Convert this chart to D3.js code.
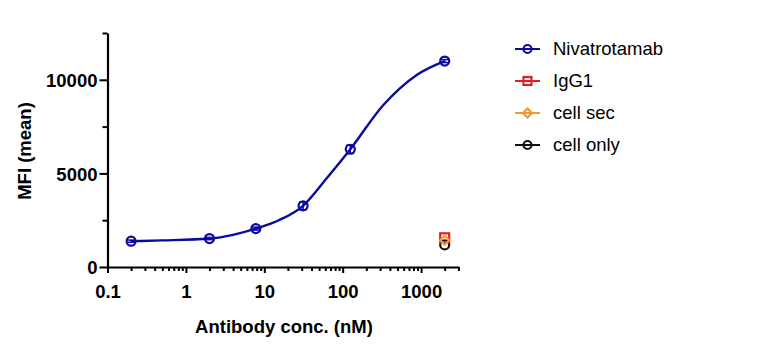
<!DOCTYPE html>
<html><head><meta charset="utf-8">
<script src="https://cdn.jsdelivr.net/npm/d3@7"></script>
<style>body{margin:0;background:#fff}svg{display:block;font-family:Arial,"Liberation Sans",sans-serif}</style>
</head><body><svg id="c" width="784" height="345"></svg>
<script>
const concentrations = [0.2, 2, 7.8, 31.25, 125, 2000];
const nivatrotamab = [1380, 1520, 2050, 3270, 6290, 11000];
const nivatrotamabErr = [60, 60, 80, 210, 220, 80];
const fitConc = [0.2, 0.5, 2, 4, 7.8, 15.6, 31.25, 62.5, 125, 330, 880, 2000];
const fitMFI = [1380, 1420, 1520, 1720, 2050, 2510, 3270, 4740, 6290, 8650, 10260, 11000];
const ctrlConc = [2000];
const igg1 = [1560];
const cellSec = [1430];
const cellOnly = [1180];
const xTicks = [0.1, 1, 10, 100, 1000];
const yTicks = [0, 5000, 10000];
const yMinor = [2500, 7500, 12500];
const seriesNames = ["Nivatrotamab", "IgG1", "cell sec", "cell only"];
const seriesColors = ["#0a0aa0", "#e02020", "#f09a30", "#111111"];
const seriesShapes = ["circle", "square", "diamond", "circle"];

const svg = d3.select("#c");
const x = d3.scaleLog().domain([0.1, 3000]).range([107.5, 458.5]);
const y = d3.scaleLinear().domain([0, 12500]).range([267, 33]);

const xMinor = [];
for (let e = -1; e <= 3; e++) for (let m = 2; m <= 9; m++) { const v = m * Math.pow(10, e); if (v <= 3000) xMinor.push(v); }

const gx = svg.append("g").attr("transform", "translate(0,267)");
gx.call(d3.axisBottom(x).tickValues(xTicks).tickFormat(d3.format("~g")).tickSize(6).tickSizeOuter(0));
gx.append("g").call(d3.axisBottom(x).tickValues(xMinor).tickFormat("").tickSize(4).tickSizeOuter(0)).select(".domain").remove();
gx.selectAll("path.domain").attr("stroke-width", 2.2).attr("stroke", "#000");
gx.selectAll(".tick line").attr("stroke-width", 2).attr("stroke", "#000");
gx.selectAll(".tick text").attr("font-size", 18.5).attr("font-weight", "bold").attr("fill", "#000").attr("y", 18).attr("dy", "0.71em");

const gy = svg.append("g").attr("transform", "translate(107.5,0)");
gy.call(d3.axisLeft(y).tickValues(yTicks).tickFormat(d3.format("d")).tickSize(8).tickSizeOuter(0));
gy.append("g").call(d3.axisLeft(y).tickValues(yMinor).tickFormat("").tickSize(5).tickSizeOuter(0)).select(".domain").remove();
gy.selectAll("path.domain").attr("stroke-width", 2.2).attr("stroke", "#000");
gy.selectAll(".tick line").attr("stroke-width", 2).attr("stroke", "#000");
gy.selectAll(".tick text").attr("font-size", 18.5).attr("font-weight", "bold").attr("fill", "#000").attr("x", -10).attr("dy", "0.36em");

svg.append("text").attr("x", 284).attr("y", 333).attr("text-anchor", "middle")
  .attr("font-size", 18.5).attr("font-weight", "bold").text("Antibody conc. (nM)");
svg.append("text").attr("transform", "translate(31,151) rotate(-90)").attr("text-anchor", "middle")
  .attr("font-size", 18.5).attr("font-weight", "bold").text("MFI (mean)");

function marker(g, shape, cx, cy, color, r) {
  if (shape === "circle") g.append("circle").attr("cx", cx).attr("cy", cy).attr("r", r).attr("fill", "none").attr("stroke", color).attr("stroke-width", 2.2);
  else if (shape === "square") g.append("rect").attr("x", cx - r).attr("y", cy - r).attr("width", 2 * r).attr("height", 2 * r).attr("fill", "none").attr("stroke", color).attr("stroke-width", 2.2);
  else g.append("path").attr("d", `M${cx},${cy - r - 1}L${cx + r + 1},${cy}L${cx},${cy + r + 1}L${cx - r - 1},${cy}Z`).attr("fill", "none").attr("stroke", color).attr("stroke-width", 2.2);
}

const pts = fitConc.map((c, i) => [x(c), y(fitMFI[i])]);
svg.append("path").attr("d", d3.line().curve(d3.curveMonotoneX)(pts))
  .attr("fill", "none").attr("stroke", seriesColors[0]).attr("stroke-width", 2.4);

const eg = svg.append("g").attr("stroke", seriesColors[0]).attr("stroke-width", 1.5);
concentrations.forEach((c, i) => {
  const cx = x(c), y1 = y(nivatrotamab[i] + nivatrotamabErr[i]), y2 = y(nivatrotamab[i] - nivatrotamabErr[i]);
  eg.append("line").attr("x1", cx).attr("x2", cx).attr("y1", y1).attr("y2", y2);
  eg.append("line").attr("x1", cx - 4).attr("x2", cx + 4).attr("y1", y1).attr("y2", y1);
  eg.append("line").attr("x1", cx - 4).attr("x2", cx + 4).attr("y1", y2).attr("y2", y2);
});

const mg = svg.append("g");
concentrations.forEach((c, i) => marker(mg, "circle", x(c), y(nivatrotamab[i]), seriesColors[0], 4.5));
ctrlConc.forEach((c, i) => marker(mg, "circle", x(c), y(cellOnly[i]), seriesColors[3], 4.5));
ctrlConc.forEach((c, i) => marker(mg, "square", x(c), y(igg1[i]), seriesColors[1], 4.5));
ctrlConc.forEach((c, i) => marker(mg, "diamond", x(c), y(cellSec[i]), seriesColors[2], 3.5));

const lg = svg.append("g");
seriesNames.forEach((n, i) => {
  const ly = 49 + i * 32;
  lg.append("line").attr("x1", 515).attr("x2", 540).attr("y1", ly).attr("y2", ly).attr("stroke", seriesColors[i]).attr("stroke-width", 2);
  marker(lg, seriesShapes[i], 527.5, ly, seriesColors[i], seriesShapes[i] === "diamond" ? 3.5 : 4);
  lg.append("text").attr("x", 553).attr("y", ly).attr("dy", "0.35em").attr("font-size", 18.5).attr("fill", "#000").text(n);
});
</script></body></html>
